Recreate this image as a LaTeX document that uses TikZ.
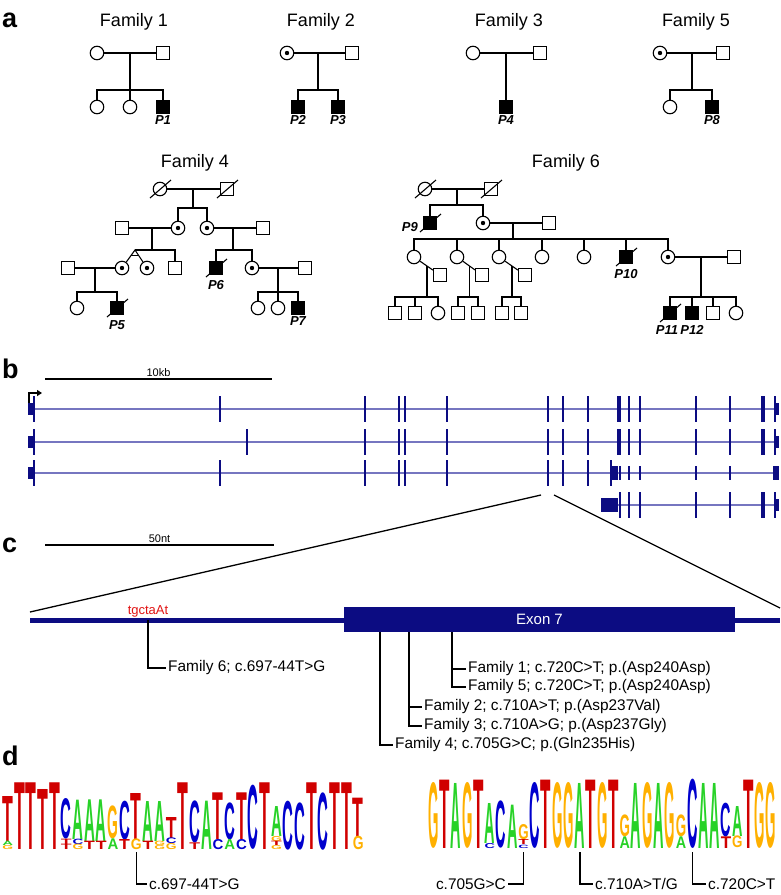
\documentclass[tikz,border=0pt]{standalone}
\usepackage{fontspec}
\setmainfont{Liberation Sans}
\usepackage{graphicx}
\usetikzlibrary{arrows.meta, calc, positioning}

\definecolor{navy}{RGB}{12,12,130}
\definecolor{intron}{RGB}{118,118,192}
\definecolor{lgA}{RGB}{40,210,40}
\definecolor{lgC}{RGB}{0,0,205}
\definecolor{lgG}{RGB}{255,176,0}
\definecolor{lgT}{RGB}{208,0,0}
\definecolor{motifred}{RGB}{225,20,20}

\newcommand\fsz[1]{\fontsize{#1}{#1}\selectfont}
\newcommand\deceased[1]{\draw[ped] ([shift={(-10,9)}]#1.center) -- ([shift={(11,-9)}]#1.center);}
\newcommand\exon[4]{\fill[navy] (#1-#3/2,#2-#4) rectangle (#1+#3/2,#2+#4);}

\begin{document}
\begin{tikzpicture}[x=1pt, y=-1pt,
  panel/.style    = {font=\fsz{27}\bfseries, anchor=base west, inner sep=0},
  famtitle/.style = {font=\fsz{18}, anchor=base},
  ped/.style      = {line width=1.1pt},
  male/.style     = {draw, line width=1.1pt, minimum size=13pt, inner sep=0},
  female/.style   = {draw, circle, line width=1.1pt, minimum size=13.5pt, inner sep=0},
  carrier/.style  = {female, path picture={\fill (path picture bounding box.center) circle (2.2pt);}},
  affected/.style = {male, fill=black},
  pid/.style      = {font=\fsz{13}\bfseries\itshape, inner sep=0},
  scalebar/.style = {line width=1.2pt},
  barlbl/.style   = {font=\fsz{11}, inner sep=0, above=2pt},
  intronline/.style = {line width=1.8pt, intron},
  zoomline/.style = {line width=1.3pt},
  leader/.style   = {line width=1.3pt},
  vlbl/.style     = {font=\fsz{15.4}, inner sep=2pt},
  logoletter/.style = {anchor=south, inner sep=0, font=\bfseries},
]
\useasboundingbox (0,0) rectangle (780,895);

%% a -- pedigrees
\node[panel] (la) at (2,27) {a};

% Family 1
\node[famtitle] (t1) at (134,26) {Family 1};
\node[female] (f1a) at (97,53) {};
\node[male] (f1b) at (163,53) {};
\draw[ped] (f1a) -- (f1b);
\coordinate (f1m) at (130,53);
\coordinate (f1j) at (130,90);
\node[female] (f1c) at (97,107) {};
\node[female] (f1d) at (130,107) {};
\node[affected] (f1e) at (163,107) {};
\draw[ped] (f1c) |- (f1j) -| (f1e);
\draw[ped] (f1m) -- (f1d);
\node[pid, below=1.5pt of f1e] (p1) {P1};

% Family 2
\node[famtitle] (t2) at (321,26) {Family 2};
\node[carrier] (f2a) at (287,53) {};
\node[male] (f2b) at (352,53) {};
\draw[ped] (f2a) -- (f2b);
\coordinate (f2m) at (318,53);
\coordinate (f2j) at (318,90);
\node[affected] (f2c) at (298,107) {};
\node[affected] (f2d) at (338,107) {};
\draw[ped] (f2m) -- (f2j);
\draw[ped] (f2c) |- (f2j) -| (f2d);
\node[pid, below=1.5pt of f2c] (p2) {P2};
\node[pid, below=1.5pt of f2d] (p3) {P3};

% Family 3
\node[famtitle] (t3) at (509,26) {Family 3};
\node[female] (f3a) at (473,53) {};
\node[male] (f3b) at (540,53) {};
\draw[ped] (f3a) -- (f3b);
\coordinate (f3m) at (506,53);
\node[affected] (f3c) at (506,107) {};
\draw[ped] (f3m) -- (f3c);
\node[pid, below=1.5pt of f3c] (p4) {P4};

% Family 5
\node[famtitle] (t5) at (696,26) {Family 5};
\node[carrier] (f5a) at (660,53) {};
\node[male] (f5b) at (723,53) {};
\draw[ped] (f5a) -- (f5b);
\coordinate (f5m) at (692,53);
\coordinate (f5j) at (692,90);
\node[female] (f5c) at (670,107) {};
\node[affected] (f5d) at (712,107) {};
\draw[ped] (f5m) -- (f5j);
\draw[ped] (f5c) |- (f5j) -| (f5d);
\node[pid, below=1.5pt of f5d] (p8) {P8};

% Family 4
\node[famtitle] (t4) at (195,167) {Family 4};
\node[female] (f4a) at (160,189) {};
\node[male] (f4b) at (227,189) {};
\deceased{f4a}
\deceased{f4b}
\draw[ped] (f4a) -- (f4b);
\coordinate (f4m1) at (193,189);
\coordinate (f4j1) at (193,208);
\node[carrier] (f4c) at (178,228) {};
\node[carrier] (f4d) at (207,228) {};
\draw[ped] (f4m1) -- (f4j1);
\draw[ped] (f4c) |- (f4j1) -| (f4d);
\node[male] (f4e) at (122,228) {};
\node[male] (f4f) at (263,228) {};
\draw[ped] (f4e) -- (f4c);
\draw[ped] (f4d) -- (f4f);
\coordinate (f4m2) at (152,228);
\coordinate (f4j2) at (152,250);
\coordinate (f4m3) at (233,228);
\coordinate (f4j3) at (233,250);
\draw[ped] (f4m2) -- (f4j2);
\draw[ped] (f4m3) -- (f4j3);
\coordinate (f4tw) at (135,250);
\node[carrier] (f4g) at (122,268) {};
\node[carrier] (f4h) at (147,268) {};
\node[male] (f4i) at (175,268) {};
\draw[ped] (f4tw) -| (f4i);
\draw[ped] (f4g) -- (f4tw) -- (f4h);
\draw[ped] ($(f4tw)!0.33!(f4g.center)$) -- ($(f4tw)!0.33!(f4h.center)$);
\node[affected] (f4k) at (216,268) {};
\deceased{f4k}
\node[carrier] (f4l) at (252,268) {};
\draw[ped] (f4k) |- (f4j3) -| (f4l);
\node[pid, below=5pt of f4k] (p6) {P6};
\node[male] (f4n) at (68,268) {};
\draw[ped] (f4n) -- (f4g);
\coordinate (f4m4) at (95,268);
\coordinate (f4j4) at (95,292);
\draw[ped] (f4m4) -- (f4j4);
\node[female] (f4o) at (77,308) {};
\node[affected] (f4p) at (117,308) {};
\deceased{f4p}
\draw[ped] (f4o) |- (f4j4) -| (f4p);
\node[pid, below=5pt of f4p] (p5) {P5};
\node[male] (f4q) at (305,268) {};
\draw[ped] (f4l) -- (f4q);
\coordinate (f4m5) at (278,268);
\coordinate (f4j5) at (278,292);
\node[female] (f4r) at (258,308) {};
\node[female] (f4s) at (278,308) {};
\node[affected] (f4u) at (298,308) {};
\draw[ped] (f4r) |- (f4j5) -| (f4u);
\draw[ped] (f4m5) -- (f4s);
\node[pid, below=1.5pt of f4u] (p7) {P7};

% Family 6
\node[famtitle] (t6) at (566,167) {Family 6};
\node[female] (f6a) at (425,189) {};
\node[male] (f6b) at (491,189) {};
\deceased{f6a}
\deceased{f6b}
\draw[ped] (f6a) -- (f6b);
\coordinate (f6m1) at (457,189);
\coordinate (f6j1) at (457,205);
\node[affected] (f6c) at (430,223) {};
\deceased{f6c}
\node[pid, anchor=east] (p9) at (418,227) {P9};
\node[carrier] (f6d) at (483,223) {};
\draw[ped] (f6m1) -- (f6j1);
\draw[ped] (f6c) |- (f6j1) -| (f6d);
\node[male] (f6e) at (549,223) {};
\draw[ped] (f6d) -- (f6e);
\coordinate (f6m2) at (513,223);
\coordinate (f6j2) at (513,239);
\draw[ped] (f6m2) -- (f6j2);
\node[female] (f6g1) at (414,257) {};
\node[female] (f6g2) at (457,257) {};
\node[female] (f6g3) at (499,257) {};
\node[female] (f6g4) at (542,257) {};
\node[female] (f6g5) at (584,257) {};
\node[affected] (f6g6) at (626,257) {};
\deceased{f6g6}
\node[carrier] (f6g7) at (668,257) {};
\draw[ped] (f6g1) |- (f6j2) -| (f6g7);
\foreach \n in {2,...,6}
  \draw[ped] (f6g\n) -- (f6g\n |- f6j2);
\node[pid, below=5pt of f6g6] (p10) {P10};
\node[male] (f6h1) at (440,275) {};
\node[male] (f6h2) at (482,275) {};
\node[male] (f6h3) at (525,275) {};
\foreach \n in {1,2,3} {
  \draw[ped] (f6g\n) -- (f6h\n);
  \coordinate (f6k\n) at ($(f6g\n)!0.5!(f6h\n)$);
  \coordinate (f6q\n) at (f6k\n |- 0,297);
  \draw[ped] (f6k\n) -- (f6q\n);
}
\node[male] (f6c11) at (395,313) {};
\node[male] (f6c12) at (415,313) {};
\node[female] (f6c13) at (438,313) {};
\draw[ped] (f6c11) |- (f6q1) -| (f6c13);
\draw[ped] (f6c12) -- (f6c12 |- f6q1);
\node[male] (f6c21) at (458,313) {};
\node[male] (f6c22) at (478,313) {};
\draw[ped] (f6c21) |- (f6q2) -| (f6c22);
\node[male] (f6c31) at (502,313) {};
\node[male] (f6c32) at (521,313) {};
\draw[ped] (f6c31) |- (f6q3) -| (f6c32);
\node[male] (f6i) at (734,257) {};
\draw[ped] (f6g7) -- (f6i);
\coordinate (f6m3) at (701,257);
\coordinate (f6j3) at (701,297);
\draw[ped] (f6m3) -- (f6j3);
\node[affected] (f6r1) at (670,313) {};
\deceased{f6r1}
\node[affected] (f6r2) at (692,313) {};
\node[male] (f6r3) at (713,313) {};
\node[female] (f6r4) at (736,313) {};
\draw[ped] (f6r1) |- (f6j3) -| (f6r4);
\draw[ped] (f6r2) -- (f6r2 |- f6j3);
\draw[ped] (f6r3) -- (f6r3 |- f6j3);
\node[pid, below=5pt of f6r1, xshift=-3pt] (p11) {P11};
\node[pid, below=5pt of f6r2] (p12) {P12};

%% b -- transcripts
\node[panel] (lb) at (2,378) {b};
\coordinate (kb0) at (45,379);
\coordinate (kb1) at (272,379);
\draw[scalebar] (kb0) -- node[barlbl] (kbt) {10kb} (kb1);
\coordinate (tss0) at (29,404);
\coordinate (tss1) at (42,393);
\draw[line width=1.1pt, -{Triangle[length=5pt,width=6pt]}] (tss0) |- (tss1);

% row 1
\draw[intronline] (34,409) -- (778,409);
\fill[navy] (28,403) rectangle (34,415);
\foreach \x in {34,220,365,399,405,548,563,588,629,640,696,730,775}
  \exon{\x}{409}{2.6}{13}
\exon{447}{409}{1.3}{13}
\exon{619}{409}{4}{13}
\exon{763}{409}{4}{13}
\fill[navy] (775,403) rectangle (779,415);

% row 2
\draw[intronline] (34,442) -- (778,442);
\fill[navy] (28,436) rectangle (34,448);
\foreach \x in {34,247,365,399,405,548,563,588,629,640,696,730,775}
  \exon{\x}{442}{2.6}{13}
\exon{447}{442}{1.3}{13}
\exon{619}{442}{4}{13}
\exon{763}{442}{4}{13}
\fill[navy] (775,436) rectangle (779,448);

% row 3
\draw[intronline] (34,473) -- (778,473);
\fill[navy] (28,467) rectangle (34,479);
\foreach \x in {34,220,365,399,405,548,563,588}
  \exon{\x}{473}{2.6}{13}
\exon{447}{473}{1.3}{13}
\exon{611}{473}{1.3}{13}
\fill[navy] (612,466) rectangle (618,480);
\foreach \x in {620,629,640,696,730}
  \exon{\x}{473}{2.6}{7}
\fill[navy] (773,466) rectangle (779,480);

% row 4
\draw[intronline] (601,505) -- (778,505);
\fill[navy] (601,498) rectangle (618,512);
\foreach \x in {620,629,640,696,730,775}
  \exon{\x}{505}{2.6}{13}
\exon{763}{505}{4}{13}
\fill[navy] (775,499) rectangle (779,511);

%% c -- exon 7
\node[panel] (lc) at (2,552) {c};
\coordinate (nt0) at (45,545);
\coordinate (nt1) at (274,545);
\draw[scalebar] (nt0) -- node[barlbl] (ntt) {50nt} (nt1);
\coordinate (zl0) at (541,495);
\coordinate (zr0) at (554,495);
\coordinate (zl1) at (30,612);
\coordinate (zr1) at (780,608);
\draw[zoomline] (zl0) -- (zl1);
\draw[zoomline] (zr0) -- (zr1);

\coordinate (g0) at (30,620);
\coordinate (g1) at (780,620);
\draw[line width=5pt, navy] (g0) -- (g1);
\node[fill=navy, text=white, font=\fsz{15}, minimum width=391pt,
      minimum height=25pt, inner sep=0] (ex7) at (539.5,619.5) {Exon 7};
\node[font=\fsz{13}, text=motifred, anchor=base, inner sep=0] (motif) at (148,614) {tgctaAt};

\coordinate (mut6) at (148,620);
\coordinate (mut1) at (ex7.south -| 452,0);
\coordinate (mut2) at (ex7.south -| 409,0);
\coordinate (mut4) at (ex7.south -| 380,0);
\node[vlbl, anchor=west] (lab6) at (166,668) {Family 6; c.697-44T>G};
\node[vlbl, anchor=west] (lab1) at (466,669) {Family 1; c.720C>T; p.(Asp240Asp)};
\node[vlbl, anchor=west] (lab5) at (466,687) {Family 5; c.720C>T; p.(Asp240Asp)};
\node[vlbl, anchor=west] (lab2) at (422,707) {Family 2; c.710A>T; p.(Asp237Val)};
\node[vlbl, anchor=west] (lab3) at (422,726) {Family 3; c.710A>G; p.(Asp237Gly)};
\node[vlbl, anchor=west] (lab4) at (393,745) {Family 4; c.705G>C; p.(Gln235His)};
\draw[leader] (mut6) |- (lab6.west);
\draw[leader] (mut1) |- (lab1.west);
\draw[leader] (mut1) |- (lab5.west);
\draw[leader] (mut2) |- (lab2.west);
\draw[leader] (mut2) |- (lab3.west);
\draw[leader] (mut4) |- (lab4.west);

%% d -- sequence logos
\node[panel] (ld) at (2,765) {d};

% left logo, intron (heights read off at 3x, from y=740)
\foreach \p/\l/\b/\t in {1/T/305/170, 1/A/318/305, 1/G/330/318,
    2/T/330/130, 3/T/330/130, 4/T/330/150, 5/T/330/130,
    6/C/298/178, 6/T/314/298, 6/T/330/314,
    7/A/298/180, 7/C/314/298, 7/G/330/314,
    8/A/305/180, 8/T/330/305, 9/A/305/180, 9/T/330/305,
    10/G/298/200, 10/A/330/298, 11/C/300/185, 11/T/330/300,
    12/T/298/160, 12/G/330/298, 13/A/305/185, 13/T/330/305,
    14/A/305/185, 14/G/318/305, 14/G/330/318,
    15/T/295/232, 15/C/312/295, 15/G/330/312,
    16/T/330/130, 17/C/310/185, 17/T/330/310, 18/A/330/185,
    19/T/300/160, 19/C/330/300, 20/C/300/190, 20/A/330/300,
    21/T/300/160, 21/C/330/300, 22/C/330/140, 23/T/330/130,
    24/A/290/200, 24/G/305/290, 24/T/318/305, 24/G/330/318,
    25/C/330/185, 26/C/330/190, 27/T/330/130, 28/C/330/160,
    29/T/330/130, 30/T/330/130, 31/T/290/175, 31/G/330/290} {
  \pgfmathsetmacro\hh{(\b-\t)/3}
  \edef\lc{lg\l}
  \node[logoletter, text=\lc] (ll-\p-\b) at ({2+(\p-0.5)*11.68},{740+\b/3})
    {\resizebox{10.8pt}{\hh pt}{\l}};
}

% right logo, exon
\foreach \p/\l/\b/\t in {1/G/325/130, 2/T/325/120, 3/A/325/130, 4/G/325/130, 5/T/325/120,
    6/A/310/190, 6/C/325/310, 7/C/325/185, 8/A/325/195,
    9/G/300/255, 9/T/315/300, 9/C/325/315,
    10/C/325/130, 11/T/325/120, 12/G/325/130, 13/G/325/130, 14/A/325/130,
    15/T/325/120, 16/G/325/130, 17/T/325/120, 18/G/290/225, 18/A/325/290,
    19/A/325/130, 20/G/325/130, 21/A/325/130, 22/G/325/130,
    23/G/290/225, 23/A/325/290, 24/C/325/120, 25/A/325/130, 26/A/325/130,
    27/C/290/190, 27/T/325/290, 28/A/290/200, 28/G/325/290,
    29/T/325/120, 30/G/325/130, 31/G/325/130} {
  \pgfmathsetmacro\hh{(\b-\t)/3}
  \edef\lc{lg\l}
  \node[logoletter, text=\lc] (rl-\p-\b) at ({428+(\p-0.5)*11.25},{740+\b/3})
    {\resizebox{10.4pt}{\hh pt}{\l}};
}

\coordinate (dm1) at ({2+11.5*11.68},852);
\coordinate (dm2) at ({428+8.5*11.25},852);
\coordinate (dm3) at ({428+13.5*11.25},852);
\coordinate (dm4) at ({428+23.5*11.25},852);
\node[vlbl, anchor=west] (dl1) at (147,884) {c.697-44T>G};
\node[vlbl, anchor=east] (dl2) at (508,884) {c.705G>C};
\node[vlbl, anchor=west] (dl3) at (593,884) {c.710A>T/G};
\node[vlbl, anchor=west] (dl4) at (706,884) {c.720C>T};
\draw[leader] (dm1) |- (dl1.west);
\draw[leader] (dm2) |- (dl2.east);
\draw[leader] (dm3) |- (dl3.west);
\draw[leader] (dm4) |- (dl4.west);

\end{tikzpicture}
\end{document}
